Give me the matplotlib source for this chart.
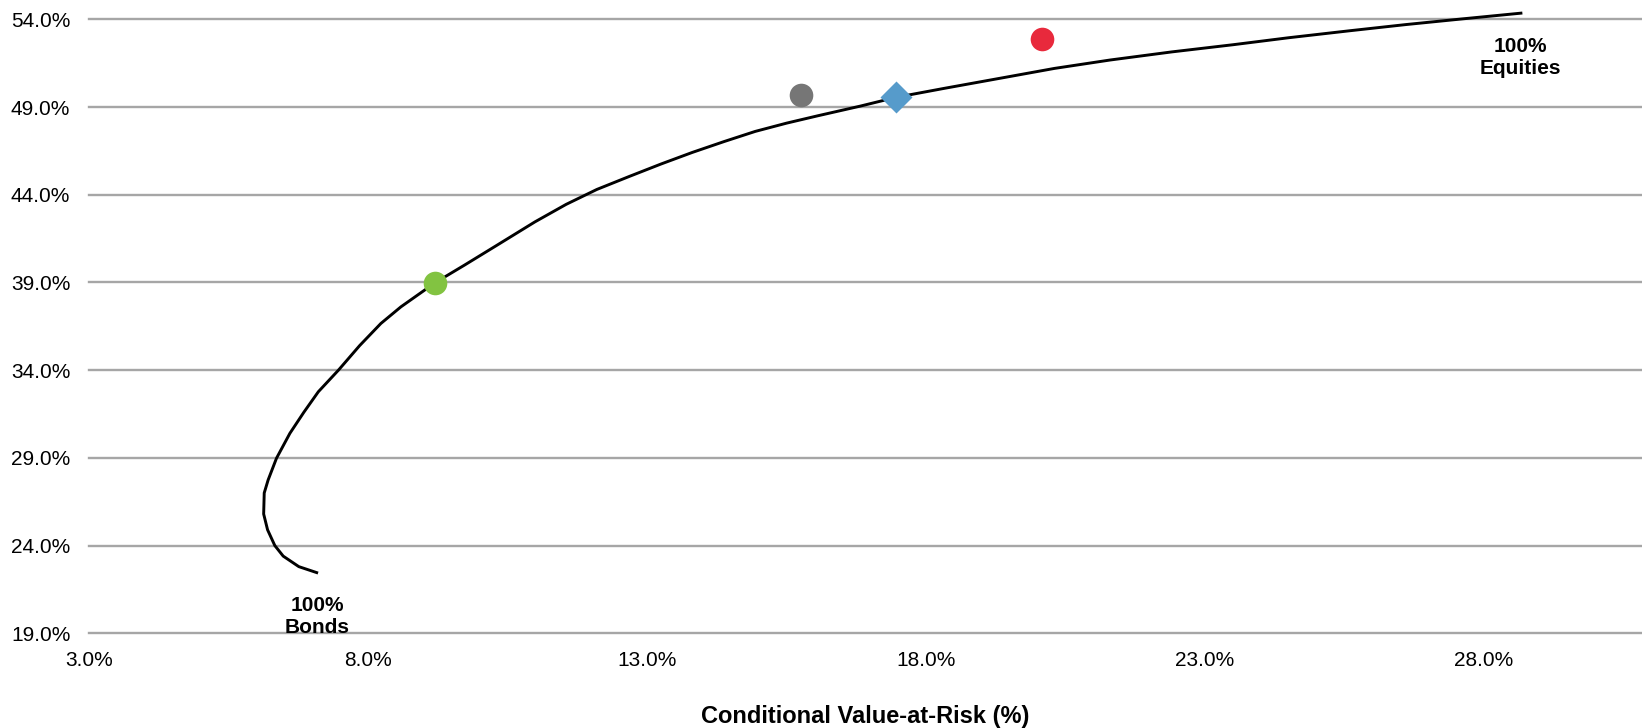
import matplotlib.pyplot as plt

plt.rcParams['font.family'] = ['Liberation Sans', 'DejaVu Sans']

# efficient frontier (CVaR %, expected return %)
frontier_cvar = [7.08, 6.76, 6.48, 6.33, 6.20, 6.13, 6.14, 6.21, 6.36, 6.60, 6.85,
                 7.11, 7.47, 7.85, 8.23, 8.59, 9.20, 9.73, 10.3, 10.99, 11.55, 12.1,
                 12.68, 13.25, 13.81, 14.38, 14.94, 15.5, 16.06, 16.82, 17.46, 18.32,
                 19.45, 20.3, 21.3, 22.4, 23.5, 24.5, 25.6, 26.6, 27.6, 28.66]
frontier_ret = [22.46, 22.8, 23.4, 24.0, 24.9, 25.8, 27.0, 27.74, 28.98, 30.40, 31.6,
                32.77, 34.0, 35.4, 36.66, 37.61, 38.98, 39.99, 41.1, 42.45, 43.45, 44.3,
                45.04, 45.75, 46.41, 47.03, 47.61, 48.08, 48.50, 49.05, 49.55, 50.06,
                50.71, 51.2, 51.68, 52.14, 52.55, 52.95, 53.35, 53.7, 54.02, 54.35]

# portfolios
pt_names = ['green', 'gray', 'blue', 'red']
pt_cvar = [9.20, 15.76, 17.46, 20.08]
pt_ret = [38.98, 49.69, 49.58, 52.87]
pt_colors = ['#82C341', '#767676', '#569BCB', '#E8293C']
pt_markers = ['o', 'o', 'D', 'o']

x_ticks = [3, 8, 13, 18, 23, 28]
y_ticks = [19, 24, 29, 34, 39, 44, 49, 54]

fig = plt.figure(figsize=(16.42, 7.28), dpi=100)
ax = fig.add_axes([89 / 1642, 1 - 633.3 / 728, 1 - 89 / 1642, (633.3 - 19.3) / 728])

for yv in y_ticks:
    ax.axhline(yv, color='#a6a6a6', lw=1.7, zorder=1, clip_on=False)

ax.plot(frontier_cvar, frontier_ret, color='black', lw=2.1, zorder=2, clip_on=False,
        solid_joinstyle='round')

for cx, cy, c, m in zip(pt_cvar, pt_ret, pt_colors, pt_markers):
    ms = 15.8 if m == 'D' else 17
    ax.plot(cx, cy, marker=m, ms=ms, color=c, mec='none', ls='none', zorder=3,
            clip_on=False)

ax.text(7.09, 19.95, '100%\nBonds', ha='center', va='center', fontsize=15,
        fontweight='bold', zorder=4)
ax.text(28.65, 51.8, '100%\nEquities', ha='center', va='center', fontsize=15,
        fontweight='bold', zorder=4)

ax.set_xlim(3, 30.83)
ax.set_ylim(19, 54)
ax.set_xticks(x_ticks)
ax.set_xticklabels(['%.1f%%' % v for v in x_ticks])
ax.set_yticks(y_ticks)
ax.set_yticklabels(['%.1f%%' % v for v in y_ticks])
ax.tick_params(length=0, labelsize=15, colors='black')
ax.tick_params(axis='y', pad=13.5)
ax.tick_params(axis='x', pad=12.5)
for s in ax.spines.values():
    s.set_visible(False)

fig.text(865 / 1642, 5 / 728, 'Conditional Value-at-Risk (%)', ha='center',
         va='baseline', fontsize=17, fontweight='bold')

fig.savefig('out.png', dpi=100)
